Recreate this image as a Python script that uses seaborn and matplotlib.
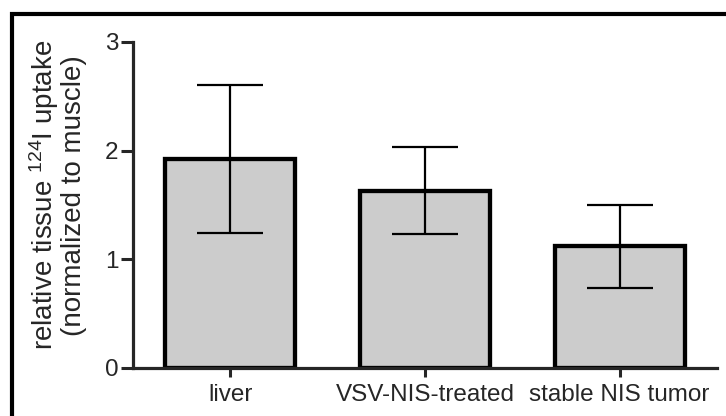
import numpy as np
import pandas as pd
import matplotlib
matplotlib.use("Agg")
import matplotlib.pyplot as plt
from matplotlib.patches import Rectangle
import seaborn as sns

# data
groups = ["liver", "VSV-NIS-treated", "stable NIS tumor"]
uptake_mean = [1.92, 1.63, 1.12]
uptake_sd = [0.68, 0.40, 0.38]
y_ticks = [0, 1, 2, 3]

df = pd.DataFrame({"group": groups, "uptake": uptake_mean})

sns.set_style("ticks")
plt.rcParams["font.family"] = ["Liberation Sans", "DejaVu Sans"]
plt.rcParams["mathtext.fontset"] = "custom"
plt.rcParams["mathtext.rm"] = "Liberation Sans"
plt.rcParams["mathtext.it"] = "Liberation Sans:italic"

fig = plt.figure(figsize=(7.26, 4.16), dpi=100)
ax = fig.add_axes([133 / 726, 1 - 368 / 416, (717 - 133) / 726, (368 - 42) / 416])

sns.barplot(data=df, x="group", y="uptake", color="#cccccc", saturation=1,
            width=0.667, edgecolor="black", linewidth=3.1, errorbar=None, ax=ax)

# error bars (mean +/- sd)
ax.errorbar(np.arange(len(groups)), uptake_mean, yerr=uptake_sd, fmt="none",
            ecolor="black", elinewidth=1.6, capsize=24, capthick=1.6, zorder=3)

ax.set_xlim(-0.5, 2.5)
ax.set_ylim(0, 3)
ax.set_yticks(y_ticks)
ax.set_xlabel("")
ax.set_ylabel("relative tissue $^{124}$I uptake\n(normalized to muscle)",
              fontsize=20, labelpad=13, linespacing=1.0)
ax.yaxis.label.set_y(0.53)

sns.despine(ax=ax)
for side in ["left", "bottom"]:
    ax.spines[side].set_linewidth(2.3)
ax.tick_params(axis="y", length=8.5, width=2.2, labelsize=17.5, pad=2)
ax.tick_params(axis="x", length=6.5, width=2.2, labelsize=17.5, pad=5)

# outer frame of the figure (only top and left edges are inside the canvas)
fig.patches.append(Rectangle((11.5 / 726, -0.5), 2, 0.5 + (1 - 14.3 / 416),
                             transform=fig.transFigure, fill=False,
                             edgecolor="black", linewidth=3))

fig.savefig("out.png", dpi=100)
